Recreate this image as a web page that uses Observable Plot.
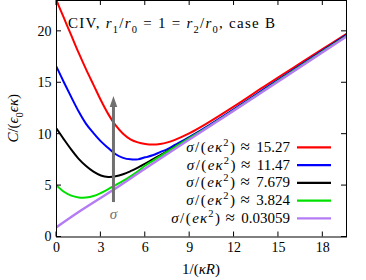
<!DOCTYPE html>
<html><head><meta charset="utf-8">
<script src="https://cdn.jsdelivr.net/npm/d3@7"></script>
<script src="https://cdn.jsdelivr.net/npm/@observablehq/plot@0.6"></script>
<style>body{margin:0;background:#fff}</style>
</head><body><div id="chart"></div>
<script>
// ---- data ----
const xGrid = [0,0.5,1,1.5,2,2.5,3,3.5,4,4.5,5,5.5,6,6.5,7,7.5,8,9,10,12,14,16,18,19.6];
const redY   = [23.0,21.3,19.6,17.9,16.3,14.8,13.3,11.95,10.85,10.05,9.5,9.2,9.05,9.0,9.05,9.2,9.45,10.1,10.9,12.7,14.6,16.45,18.3,19.75];
const blueY  = [16.55,15.05,13.6,12.2,11.0,10.1,9.3,8.65,8.05,7.7,7.55,7.55,7.75,7.95,8.25,8.55,8.95,9.75,10.6,12.45,14.35,16.25,18.15,19.65];
const blackY = [10.55,9.5,8.5,7.6,6.9,6.35,5.98,5.84,5.9,6.1,6.4,6.75,7.14,7.55,7.95,8.35,8.8,9.65,10.5,12.35,14.25,16.15,18.05,19.6];
const greenY = [5.02,4.4,4.02,3.85,3.84,3.98,4.28,4.65,5.05,5.45,5.9,6.4,6.95,7.4,7.85,8.3,8.75,9.65,10.5,12.35,14.25,16.15,18.05,19.55];
const purpleX = [0,1.62,3.8,6,9,12,15.5,19.6];
const purpleY = [0.95,2.55,4.55,6.66,9.5,12.3,15.6,19.5];

const seriesNames = ["15.27","11.47","7.679","3.824","0.03059"];
const seriesColors = ["#ff0000","#0000ff","#000000","#00e000","#b47cf4"];

const xTicks = [0,3,6,9,12,15,18];
const yTicks = [0,5,10,15,20];

const arrowX = [3.85];
const arrowY1 = [3.35];
const arrowHeadY = [12.65];
const sigmaLabelY = [2.2];

// ---- build tables ----
const pts = (xs, ys) => xs.map((x, i) => ({x, y: ys[i]}));
const curves = [pts(xGrid, redY), pts(xGrid, blueY), pts(xGrid, blackY), pts(xGrid, greenY), pts(purpleX, purpleY)];
const arrowData = arrowX.map((x, i) => ({x, y1: arrowY1[i], y2: arrowHeadY[i]}));
const sigmaData = arrowX.map((x, i) => ({x, y: sigmaLabelY[i]}));

const FONT = "Liberation Serif";

function rich(sel, parts, size) {
  let shift = 0;
  for (const p of parts) {
    const target = p.sub ? size * 0.3 : p.sup ? -size * 0.4 : 0;
    const ts = sel.append("tspan").attr("dy", target - shift).text(p.t);
    shift = target;
    if (p.dx) ts.attr("dx", p.dx);
    if (p.it) ts.attr("font-style", "italic");
    if (p.sub || p.sup) ts.attr("font-size", size * 0.7);
    if (p.fs) ts.attr("font-size", p.fs);
  }
}

const headSymbol = {
  draw(ctx) {
    ctx.moveTo(0, -11);
    ctx.lineTo(3.8, 0);
    ctx.lineTo(-3.8, 0);
    ctx.closePath();
  }
};

function decor(index, scales, values, dims) {
  const {x, y} = scales;
  const {width, height, marginLeft, marginRight, marginTop, marginBottom} = dims;
  const L = marginLeft, R = width - marginRight, T = marginTop, B = height - marginBottom;
  const g = d3.create("svg:g").attr("font-family", FONT).attr("fill", "black").style("white-space", "pre");
  const t = 5;
  const tk = g.append("g").attr("stroke", "black").attr("stroke-width", 1);
  for (const v of xTicks) {
    const px = x(v);
    tk.append("line").attr("x1", px).attr("x2", px).attr("y1", B).attr("y2", B - t);
    tk.append("line").attr("x1", px).attr("x2", px).attr("y1", T).attr("y2", T + t);
  }
  for (const v of yTicks) {
    const py = y(v);
    tk.append("line").attr("x1", L).attr("x2", L + t).attr("y1", py).attr("y2", py);
    tk.append("line").attr("x1", R).attr("x2", R - t).attr("y1", py).attr("y2", py);
  }
  // title inside plot
  const title = g.append("text").attr("x", L + 12).attr("y", T + 28).attr("font-size", 15)
    .attr("text-anchor", "start").attr("textLength", 207).attr("lengthAdjust", "spacing");
  rich(title, [{t: "CIV, "}, {t: "r", it: 1}, {t: "1", sub: 1}, {t: "/"}, {t: "r", it: 1}, {t: "0", sub: 1},
               {t: " = 1 = "}, {t: "r", it: 1}, {t: "2", sub: 1}, {t: "/"}, {t: "r", it: 1}, {t: "0", sub: 1},
               {t: ", case B"}], 15);
  // x label
  const xl = g.append("text").attr("x", (L + R) / 2).attr("y", B + 37).attr("text-anchor", "middle").attr("font-size", 15);
  rich(xl, [{t: "1/("}, {t: "κR", it: 1}, {t: ")"}], 15);
  // y label
  const yl = g.append("text").attr("transform", `translate(18,${(T + B) / 2}) rotate(-90)`).attr("text-anchor", "middle").attr("font-size", 15);
  rich(yl, [{t: "C", it: 1}, {t: "/("}, {t: "ϵ", it: 1}, {t: "0", sub: 1}, {t: "ϵκ", it: 1}, {t: ")"}], 15);
  // legend
  seriesNames.forEach((name, i) => {
    const cy = B - 18.2 - (seriesNames.length - 1 - i) * 17.75;
    const tx = g.append("text").attr("x", R - 56).attr("y", cy + 4.6).attr("text-anchor", "end").attr("font-size", 15);
    rich(tx, [{t: "σ", it: 1}, {t: "/", dx: 1.5}, {t: "(", dx: 1.5}, {t: "e", it: 1, dx: 1.5}, {t: "κ", it: 1, dx: 1},
              {t: "2", sup: 1, dx: 1}, {t: ")", dx: 1.5}, {t: "≈", dx: 5.5, fs: 17}, {t: name, dx: 6.5}], 15);
    g.append("line").attr("x1", R - 49).attr("x2", R - 15).attr("y1", cy).attr("y2", cy)
      .attr("stroke", seriesColors[i]).attr("stroke-width", 2.2);
  });
  return g.node();
}

const chart = Plot.plot({
  width: 366, height: 280,
  marginLeft: 56, marginRight: 20, marginTop: 0, marginBottom: 43.5,
  x: {domain: [0, 19.6]},
  y: {domain: [0, 23]},
  style: {fontFamily: FONT, fontSize: "14px", background: "white", color: "black"},
  marks: [
    ...curves.map((c, i) => Plot.line(c, {x: "x", y: "y", stroke: seriesColors[i], strokeWidth: i === 4 ? 2.4 : 2, curve: "catmull-rom", clip: true})),
    Plot.ruleX(arrowData, {x: "x", y1: "y1", y2: "y2", stroke: "#707070", strokeWidth: 3}),
    Plot.dot(arrowData, {x: "x", y: "y2", symbol: headSymbol, fill: "#707070", stroke: "none", r: 4}),
    Plot.text(sigmaData, {x: "x", y: "y", text: () => "σ", fill: "#707070", fontStyle: "italic", fontSize: 15, fontFamily: FONT}),
    Plot.frame({stroke: "black", strokeWidth: 1}),
    Plot.axisX(xTicks, {anchor: "bottom", tickSize: 0, tickPadding: 5, label: null, fontSize: 14, fontFamily: FONT, fill: "black"}),
    Plot.axisY(yTicks, {anchor: "left", tickSize: 0, tickPadding: 5, label: null, fontSize: 14, fontFamily: FONT, fill: "black"}),
    decor
  ]
});
document.getElementById("chart").appendChild(chart);
</script>
</body></html>
